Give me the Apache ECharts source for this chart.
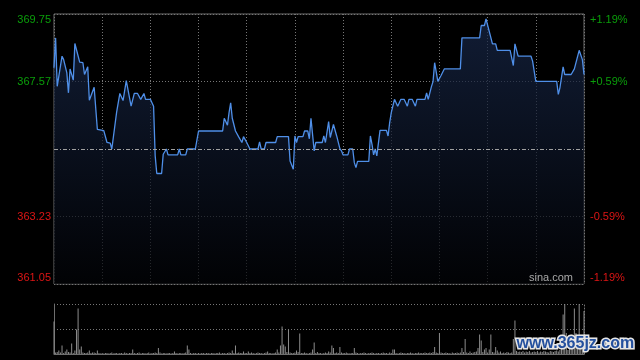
<!DOCTYPE html>
<html>
<head>
<meta charset="utf-8">
<style>
html,body{margin:0;padding:0;background:#000;}
#c{width:640px;height:360px;}
</style>
<script src="https://cdn.jsdelivr.net/npm/echarts@6/dist/echarts.min.js"></script>
</head>
<body>
<div id="c"></div>
<script>
// minute of the trading day (0..330) and price at each vertex of the line
const times = [0,1,2,5,6,8,9,10,11,12,13,14,16,18,19,21,22,25,26,27,31,33,35,36,39,40,41,42,43,45,46,48,49,50,52,54,55,56,57,60,62,63,64,67,68,70,71,77,78,79,82,83,88,90,105,106,107,108,109,110,111,112,113,114,115,116,117,118,119,120,121,122,127,128,129,131,132,138,139,146,147,148,149,150,151,152,155,156,158,159,160,161,162,163,167,168,169,171,172,174,175,176,177,178,179,180,183,184,186,187,188,189,196,197,198,199,200,201,203,207,208,209,210,212,213,214,215,216,218,220,221,223,225,226,231,232,233,234,235,236,237,238,239,241,242,243,253,254,265,266,268,269,270,271,272,273,275,276,284,286,287,288,289,297,298,299,300,313,314,315,316,317,318,322,324,325,327,328,329,330];
const prices = [368.02,368.98,367.42,368.39,368.28,367.85,367.21,367.98,367.96,367.62,368.80,368.76,368.20,368.18,367.80,368.05,366.97,367.39,367.37,366.03,365.99,365.61,365.59,365.40,366.59,366.59,367.19,367.18,366.96,367.60,367.58,366.78,366.78,367.19,367.19,367.00,367.00,367.19,367.00,367.00,366.78,365.18,364.61,364.61,365.23,365.40,365.21,365.21,365.40,365.21,365.21,365.40,365.40,365.98,365.98,366.39,366.39,366.17,366.57,366.89,366.39,366.39,365.98,365.96,365.79,365.79,365.61,365.80,365.79,365.61,365.58,365.40,365.40,365.63,365.40,365.40,365.61,365.61,365.80,365.80,365.01,364.98,364.75,365.82,365.61,365.80,365.80,365.98,365.98,365.73,366.39,366.39,365.34,365.61,365.61,365.82,365.61,366.28,365.77,366.19,366.19,365.82,365.80,365.41,365.34,365.21,365.21,365.40,365.40,364.96,364.80,365.00,365.00,365.82,365.55,365.21,365.40,365.18,366.00,366.00,365.82,366.25,366.57,367.00,367.00,366.78,366.78,367.00,367.00,366.78,367.00,367.00,366.78,367.00,367.00,367.21,367.00,367.00,367.41,367.57,368.18,368.20,367.58,367.77,367.77,367.98,367.98,368.98,368.98,369.38,369.38,369.59,369.59,369.19,369.17,368.79,368.79,368.58,368.58,368.09,368.79,368.79,368.39,368.39,368.23,368.18,367.58,367.58,367.16,367.37,367.41,368.05,367.80,367.80,367.98,367.98,368.58,368.58,368.28,367.80];
// volume per minute (relative units, axis top = 100)
const volumes = [
65,3,4,7,3,17,2,5,9,4,
3,21,2,7,49,91,9,15,3,2,
2,3,7,2,3,3,2,7,2,1,
2,1,2,2,1,2,3,1,2,2,
1,2,2,1,3,2,1,2,2,9,
2,1,2,3,1,2,2,1,2,3,
1,2,2,3,2,12,3,1,2,2,
1,2,2,1,2,5,2,1,2,2,
1,2,3,17,9,2,1,2,2,1,
2,1,2,2,1,2,2,1,2,2,
1,2,2,3,1,2,2,1,2,3,
2,7,2,17,2,3,2,2,5,2,
2,5,2,3,2,1,2,3,2,2,
1,2,3,5,2,2,1,2,3,9,
3,17,55,19,15,4,49,3,2,2,
3,7,4,41,2,2,3,2,1,2,
3,9,23,2,4,2,2,1,2,3,
2,5,3,17,12,2,3,2,14,3,
2,2,3,2,1,2,2,12,3,2,
1,2,2,3,2,1,2,2,3,2,
1,2,2,1,2,3,2,2,1,3,
2,9,9,2,1,2,3,2,2,1,
2,2,3,2,1,2,2,3,2,2,
2,3,2,2,3,2,4,14,3,2,
42,3,2,2,3,2,2,1,3,2,
2,3,2,3,12,4,30,3,2,5,
2,3,4,5,12,39,27,4,9,12,
3,9,39,4,3,14,7,3,5,2,
3,2,4,3,2,3,30,67,6,4,
5,4,6,3,5,4,6,3,4,5,
4,6,3,5,4,6,5,4,3,6,
5,4,6,7,5,8,10,79,100,42,
8,10,12,14,91,42,37,100,20,18,
86];
const prevClose = 365.40;
const priceMin = 361.05, priceMax = 369.75, priceStep = 2.175;
const priceTicks = ['361.05', '363.23', '', '367.57', '369.75'];
const pctTicks = ['-1.19%', '-0.59%', '', '+0.59%', '+1.19%'];

const lineData = times.map((t, i) => [t, prices[i]]);
const volCats = volumes.map((v, i) => i);

const GREEN = '#0a9e0a', RED = '#dd1515';
function tickIndex(v) { return Math.round((v - priceMin) / priceStep); }
function richFor(idx) {
  return idx === 4 ? 'top' : (idx === 0 ? 'bot' : (idx > 2 ? 'up' : 'dn'));
}
const richStyles = {
  top: { color: GREEN, fontSize: 11, padding: [12, 0, 0, 0] },
  up:  { color: GREEN, fontSize: 11 },
  dn:  { color: RED, fontSize: 11 },
  bot: { color: RED, fontSize: 11, padding: [0, 0, 12, 0] }
};
const dotted = { color: '#767676', type: [1, 2], width: 1 };

const chart = echarts.init(document.getElementById('c'), null, { renderer: 'canvas' });
chart.setOption({
  backgroundColor: '#000',
  animation: false,
  textStyle: { fontFamily: 'Liberation Sans, Arial, sans-serif' },
  title: {
    text: 'sina.com', right: 67, top: 272, padding: 0,
    textStyle: { color: '#a8a8a8', fontSize: 11, fontWeight: 'normal', fontFamily: 'Liberation Sans, Arial, sans-serif' }
  },
  graphic: [{
    type: 'text', left: 515, top: 334, z: 100,
    style: {
      text: 'www.365jz.com', fill: '#24509e', stroke: '#e6e6e6', lineWidth: 3,
      font: 'bold 16px "Liberation Sans", Arial, sans-serif'
    }
  }],
  grid: [
    { left: 54, right: 56, top: 14, height: 270, show: true, borderColor: '#6e6e6e', borderWidth: 1, backgroundColor: 'transparent' },
    { left: 54, right: 56, top: 304, height: 50 }
  ],
  xAxis: [
    { type: 'value', gridIndex: 0, min: 0, max: 330, interval: 30,
      axisLine: { show: false }, axisTick: { show: false }, axisLabel: { show: false },
      splitLine: { show: true, lineStyle: dotted } },
    { type: 'category', gridIndex: 1, data: volCats, boundaryGap: false,
      axisLine: { show: true, lineStyle: { color: '#6e6e6e' } }, axisTick: { show: false }, axisLabel: { show: false },
      splitLine: { show: false } }
  ],
  yAxis: [
    { type: 'value', gridIndex: 0, position: 'left', min: priceMin, max: priceMax, interval: priceStep,
      axisLine: { show: false }, axisTick: { show: false },
      splitLine: { show: true, lineStyle: dotted },
      axisLabel: { margin: 3, formatter: v => { const i = tickIndex(v); return priceTicks[i] ? '{' + richFor(i) + '|' + priceTicks[i] + '}' : ''; }, rich: richStyles } },
    { type: 'value', gridIndex: 0, position: 'right', min: priceMin, max: priceMax, interval: priceStep,
      axisLine: { show: false }, axisTick: { show: false }, splitLine: { show: false },
      axisLabel: { margin: 6, formatter: v => { const i = tickIndex(v); return pctTicks[i] ? '{' + richFor(i) + '|' + pctTicks[i] + '}' : ''; }, rich: richStyles } },
    { type: 'value', gridIndex: 1, position: 'left', min: 0, max: 100, interval: 50,
      axisLine: { show: true, lineStyle: { color: '#6e6e6e' } }, axisTick: { show: false }, axisLabel: { show: false },
      splitLine: { show: true, lineStyle: dotted } },
    { type: 'value', gridIndex: 1, position: 'right', min: 0, max: 100, interval: 50,
      axisLine: { show: true, lineStyle: dotted }, axisTick: { show: false }, axisLabel: { show: false },
      splitLine: { show: false } }
  ],
  series: [
    { type: 'line', xAxisIndex: 0, yAxisIndex: 0, data: lineData, showSymbol: false, symbol: 'none',
      lineStyle: { color: '#4f8fe8', width: 1.3 },
      areaStyle: { origin: 'start', color: new echarts.graphic.LinearGradient(0, 0, 0, 1, [
        { offset: 0, color: '#18284a' }, { offset: 1, color: '#020306' }]) },
      markLine: { silent: true, symbol: 'none', label: { show: false },
        lineStyle: { color: '#a0a0a0', type: [4, 2, 1, 2], width: 1 },
        data: [{ yAxis: prevClose }] } },
    { type: 'bar', xAxisIndex: 1, yAxisIndex: 2, data: volumes, barWidth: 1,
      itemStyle: { color: '#8c8c8c' } }
  ]
});
</script>
</body>
</html>
